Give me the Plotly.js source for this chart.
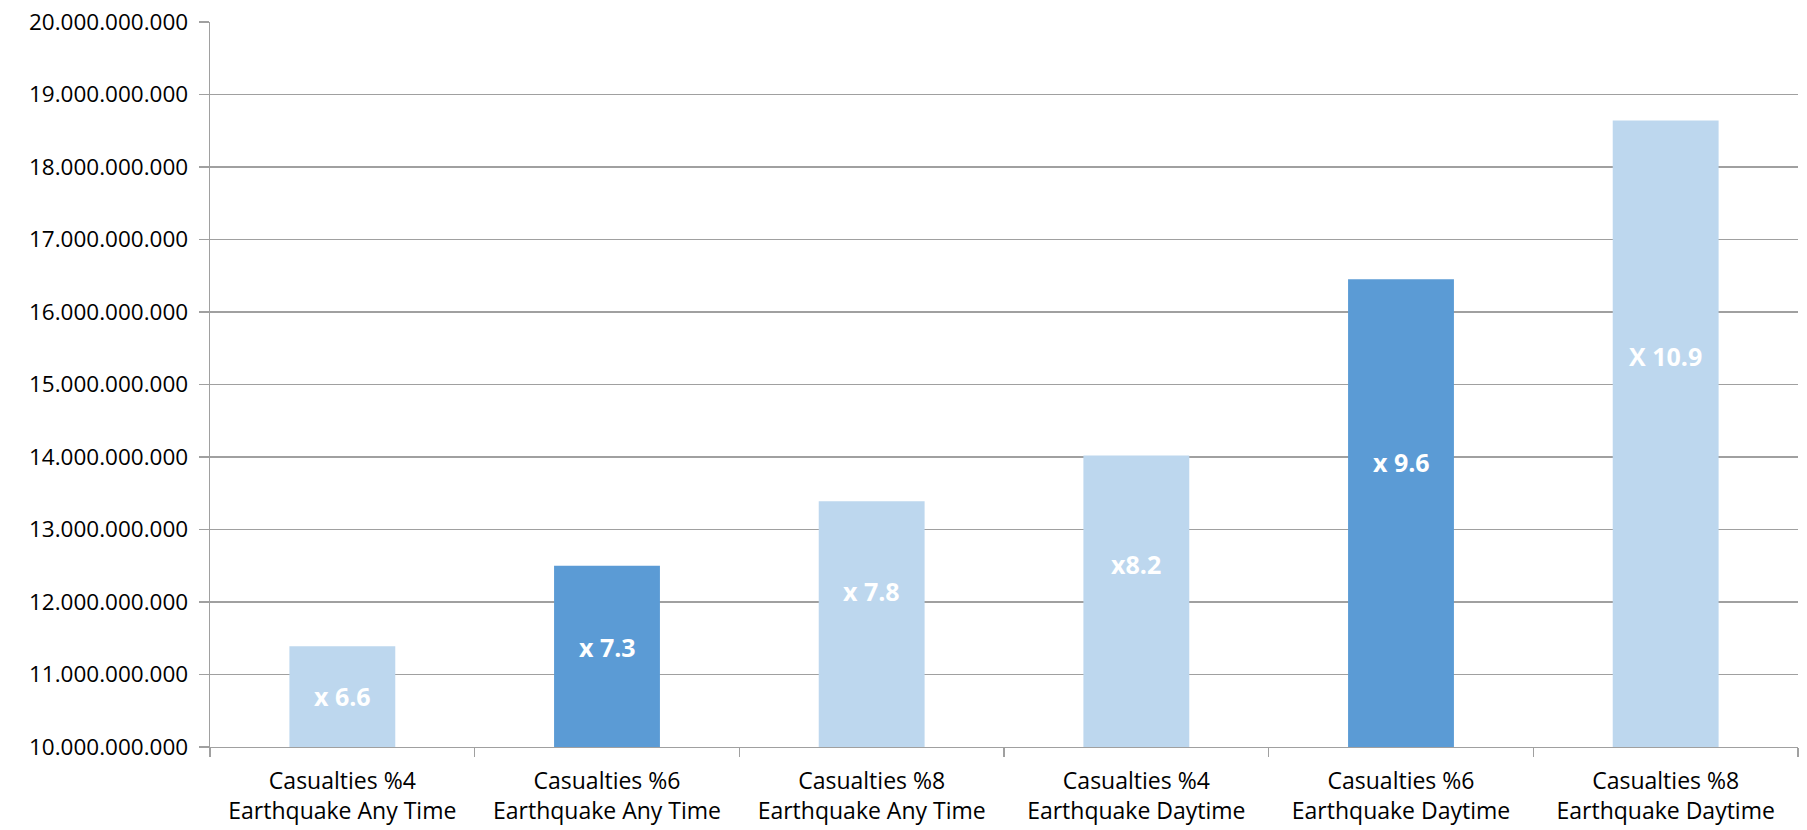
<!DOCTYPE html>
<html>
<head>
<meta charset="utf-8">
<script src="https://cdn.plot.ly/plotly-3.0.1.min.js"></script>
<style>html,body{margin:0;padding:0;background:#fff;}#chart{width:1807px;height:830px;}</style>
</head>
<body>
<div id="chart"></div>
<script>
const categories = [
  "Casualties %4<br>Earthquake Any Time",
  "Casualties %6<br>Earthquake Any Time",
  "Casualties %8<br>Earthquake Any Time",
  "Casualties %4<br>Earthquake Daytime",
  "Casualties %6<br>Earthquake Daytime",
  "Casualties %8<br>Earthquake Daytime"
];
const values = [11390000000, 12500000000, 13390000000, 14020000000, 16450000000, 18640000000];
const barLabels = ["x 6.6", "x 7.3", "x 7.8", "x8.2", "x 9.6", "X 10.9"];
const labelY = [10700000000, 11380000000, 12150000000, 12530000000, 13930000000, 15400000000];
const barColors = ["#BDD7EE", "#5B9BD5", "#BDD7EE", "#BDD7EE", "#5B9BD5", "#BDD7EE"];
const yTicks = [10e9, 11e9, 12e9, 13e9, 14e9, 15e9, 16e9, 17e9, 18e9, 19e9, 20e9];

const trace = {
  type: "bar",
  x: categories,
  y: values,
  marker: {color: barColors, line: {width: 0}},
  hoverinfo: "x+y"
};

const annotations = categories.map((c, i) => ({
  x: c, y: labelY[i], xref: "x", yref: "y",
  text: barLabels[i], showarrow: false,
  font: {family: "Open Sans", size: 25, color: "#ffffff", weight: 700}
}));

const layout = {
  width: 1807, height: 830,
  margin: {l: 210, r: 9, t: 22, b: 83},
  paper_bgcolor: "#ffffff", plot_bgcolor: "#ffffff",
  separators: ",.",
  bargap: 0.6,
  showlegend: false,
  font: {family: "Open Sans", size: 22, color: "#000000"},
  xaxis: {
    type: "category",
    tickson: "boundaries",
    ticks: "outside", ticklen: 9, tickcolor: "#a0a0a0", tickwidth: 1.3,
    showline: true, linecolor: "#a0a0a0", linewidth: 1.3,
    showgrid: false, zeroline: false,
    ticklabelstandoff: 13,
    tickfont: {family: "Open Sans", size: 23, color: "#000000"}
  },
  yaxis: {
    range: [10e9, 20e9],
    tickvals: yTicks,
    tickformat: ",d",
    ticks: "outside", ticklen: 10, tickcolor: "#a0a0a0", tickwidth: 1.3,
    showline: true, linecolor: "#a0a0a0", linewidth: 1.3,
    showgrid: true, gridcolor: "#a0a0a0", gridwidth: 1.3,
    zeroline: false,
    ticklabelstandoff: 6,
    tickfont: {family: "Open Sans", size: 22.5, color: "#000000"}
  },
  annotations: annotations
};

Plotly.newPlot("chart", [trace], layout, {displayModeBar: false, staticPlot: true});
</script>
</body>
</html>
